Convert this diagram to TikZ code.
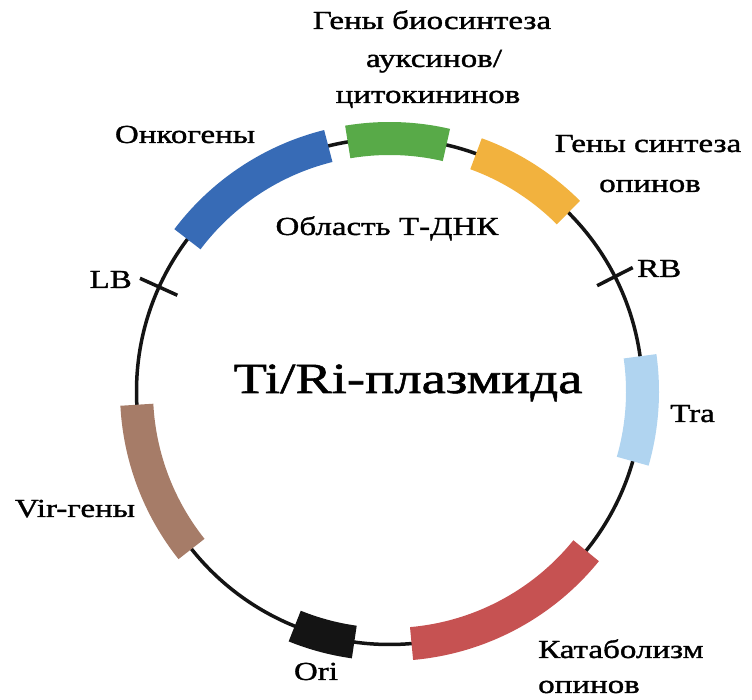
\documentclass[tikz,border=0pt]{standalone}
\usepackage{fontspec}
\setmainfont[FakeStretch=1.27,FakeBold=1.3]{Liberation Serif}
\definecolor{cblue}{RGB}{55,107,182}
\definecolor{cgreen}{RGB}{88,170,72}
\definecolor{corange}{RGB}{242,178,62}
\definecolor{clight}{RGB}{176,212,240}
\definecolor{cred}{RGB}{198,82,82}
\definecolor{cbrown}{RGB}{166,124,104}
\definecolor{cblack}{RGB}{20,20,20}
\tikzset{
  band/.style={line width=33pt, draw=#1},
  ring/.style={line width=3.5pt, draw=cblack},
  bordertick/.style={line width=3.5pt, draw=cblack},
  lbl/.style={font=\fontsize{26}{30}\selectfont, inner sep=0pt, anchor=base},
  title/.style={font=\fontsize{43}{48}\selectfont, inner sep=0pt, anchor=base},
}
\begin{document}
\begin{tikzpicture}[x=1pt,y=1pt]
\useasboundingbox (0,0) rectangle (752,700);
\coordinate (C) at (389.5,308.5);
\def\R{253}
\draw[ring] (C) circle[radius=\R];
% gene blocks
\draw[band=cblue]   ([shift={(104:\R)}]C) arc[start angle=104, end angle=143, radius=\R];
\draw[band=cgreen]  ([shift={(77:\R)}]C) arc[start angle=77, end angle=99.5, radius=\R];
\draw[band=corange] ([shift={(45:\R)}]C) arc[start angle=45, end angle=70, radius=\R];
\draw[band=clight]  ([shift={(-16:\R)}]C) arc[start angle=-16, end angle=8, radius=\R];
\draw[band=cred]    ([shift={(-85:\R)}]C) arc[start angle=-85, end angle=-39, radius=\R];
\draw[band=cblack]  ([shift={(248:\R)}]C) arc[start angle=248, end angle=262, radius=\R];
\draw[band=cbrown]  ([shift={(183:\R)}]C) arc[start angle=183, end angle=218.5, radius=\R];
% border ticks
\coordinate (lbin)  at ([shift={(155.6:233)}]C);
\coordinate (lbout) at ([shift={(155.6:274)}]C);
\coordinate (rbin)  at ([shift={(27:233)}]C);
\coordinate (rbout) at ([shift={(27:273)}]C);
\draw[bordertick] (lbin) -- (lbout);
\draw[bordertick] (rbin) -- (rbout);
% labels
\node[title] (ttl) at (408,307) {Ti/Ri-плазмида};
\node[lbl] (onko) at (185,557) {Онкогены};
\node[lbl] (gb1) at (432,671) {Гены биосинтеза};
\node[lbl] (gb2) at (434,633) {ауксинов/};
\node[lbl] (gb3) at (428,597) {цитокининов};
\node[lbl] (gs1) at (648,548) {Гены синтеза};
\node[lbl] (gs2) at (650,508) {опинов};
\node[lbl] (obl) at (387,465) {Область Т-ДНК};
\node[lbl, anchor=base east] (lb) at (132,412) {LB};
\node[lbl, anchor=base west] (rb) at (637,423) {RB};
\node[lbl, anchor=base west] (tra) at (670,278) {Tra};
\node[lbl] (vir) at (75,183) {Vir-гены};
\node[lbl] (ori) at (316,20) {Ori};
\node[lbl, anchor=base west] (kat1) at (538,42) {Катаболизм};
\node[lbl, anchor=base west] (kat2) at (538,7) {опинов};
\end{tikzpicture}
\end{document}
